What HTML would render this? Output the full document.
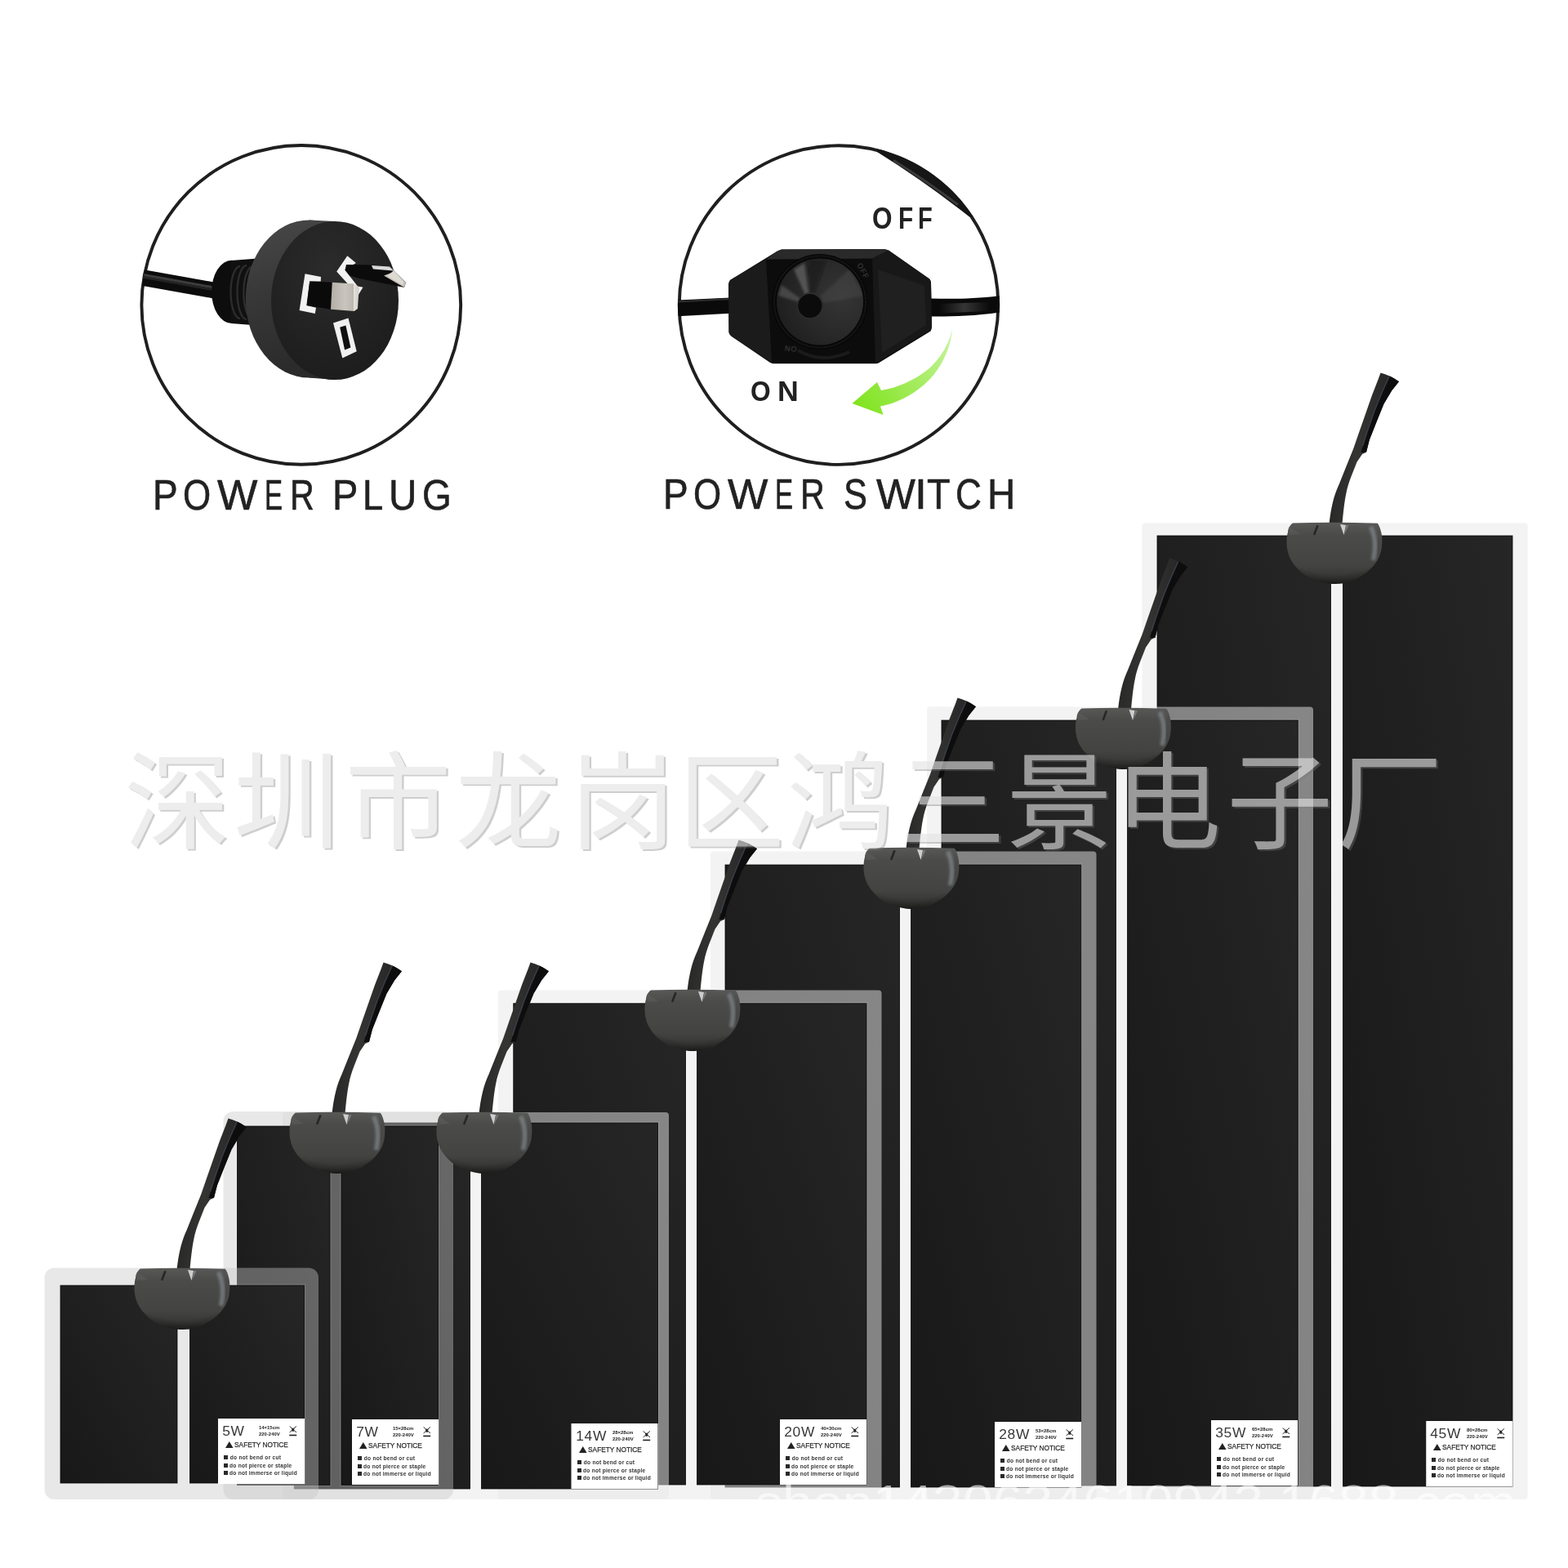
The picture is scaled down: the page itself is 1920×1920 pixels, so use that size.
<!DOCTYPE html>
<html><head><meta charset="utf-8"><title>Heat mat sizes</title>
<style>
html,body{margin:0;padding:0;background:#fff}
body{width:1920px;height:1920px;position:relative;overflow:hidden;font-family:"Liberation Sans",sans-serif}
svg.full{position:absolute;left:0;top:0}
.t{position:absolute;white-space:nowrap;color:#222;line-height:1;transform-origin:0 0}
.lb{position:absolute;width:106px;height:80px;color:#222;line-height:1;will-change:transform}
.t{will-change:transform}
.lb span{position:absolute;white-space:nowrap;transform-origin:0 0}
.lb .w{left:5.2px;top:7.1px;font-size:17.4px;color:#383838;letter-spacing:.75px}
.lb .sz{left:50.3px;top:8.4px;font-size:5.6px;font-weight:bold;line-height:7.5px;transform:scaleX(1.06)}
.lb .we{position:absolute;left:87px;top:9px;width:9.5px;height:13.3px}
.lb .sn{left:9px;top:28px;font-size:8.7px;transform:scaleX(.955);color:#2a2a2a;-webkit-text-stroke:.25px #2a2a2a}
.lb .sn i{display:inline-block;width:0;height:0;border-left:5.5px solid transparent;border-right:5.5px solid transparent;border-bottom:8.2px solid #222;margin-right:1.6px;vertical-align:-.7px}
.lb .l{left:7px;font-size:6.6px;font-weight:bold;color:#333;letter-spacing:.25px}
.lb .l b{display:inline-block;width:5px;height:5px;background:#2a2a2a;margin-right:2px;vertical-align:0}
.lb .l1{top:45px} .lb .l2{top:54.6px} .lb .l3{top:64.3px}
</style></head><body>
<svg class="full" width="1920" height="1920" viewBox="0 0 1920 1920">
<defs>
<linearGradient id="pg" x1="0" y1="1" x2="1" y2="0"><stop offset="0" stop-color="#181818"/><stop offset="1" stop-color="#262626"/></linearGradient>
<linearGradient id="cg" x1="0" y1="0" x2="0" y2="1"><stop offset="0" stop-color="#585957"/><stop offset=".2" stop-color="#4b4c4a"/><stop offset=".7" stop-color="#434441"/><stop offset=".9" stop-color="#363634"/><stop offset="1" stop-color="#282827"/></linearGradient>
<radialGradient id="cg2" cx=".5" cy=".2" r=".85"><stop offset="0" stop-color="#000" stop-opacity="0"/><stop offset=".75" stop-color="#000" stop-opacity="0"/><stop offset="1" stop-color="#000" stop-opacity=".45"/></radialGradient>
<linearGradient id="cabg" x1="0" y1="0" x2="1" y2="0.15"><stop offset="0" stop-color="#232323"/><stop offset=".45" stop-color="#343433"/><stop offset="1" stop-color="#222"/></linearGradient>
<filter id="bl2" x="-50%" y="-50%" width="200%" height="200%"><feGaussianBlur stdDeviation="1.6"/></filter>
<filter id="bl05" x="-50%" y="-50%" width="200%" height="200%"><feGaussianBlur stdDeviation=".6"/></filter>
<symbol id="conn" overflow="visible">
<path d="M52,2 C53,-8 54.5,-17 56.5,-25 C58.5,-33 61,-40 64.2,-46.9 L72.9,-68.8 L81.7,-90.6 L89.3,-112.5 L97,-134.4 L104.6,-156.3 L112.3,-175.9 L115,-183.6 Q126,-181 137.5,-172.7 L128.7,-161.7 L118.9,-145.3 L110.1,-123.4 L101.4,-101.6 L97.5,-86.3 L92.6,-84.1 L86,-74.2 L79.5,-57.8 C76,-49 74,-42 72.9,-36 C71,-27 69.5,-15 68,2 Z" fill="url(#cabg)"/>
<path d="M97.5,-86.3 L101.4,-101.6 L110.1,-123.4 L118.9,-145.3 L128.7,-161.7 L137.5,-172.7 Q131,-177.5 126,-179.5 L117,-160 L108,-138 L100,-115 L94,-96 L91,-86 Z" fill="#0d0d0d"/>
<path d="M125.5,-179 L116.5,-159 L107.5,-137 L99.5,-114 L93,-94" stroke="#3d4350" stroke-width="1.6" fill="none" opacity=".8"/>
<path d="M7.4,.5 C4,3 1.6,7 1.6,11.3 C.5,15 0,19 0,23.8 C0,28 .4,31 1.2,34.8 C2,39 3.5,43 5.9,46.5 C8,50.5 11,54 14.5,57.4 C18.5,61.5 23,64.5 28.5,67.6 C34,70.5 40,72.5 47.3,73.8 C51,74.6 55,75 59.8,75 C65,75 70,74.2 74.6,73 C80,71.6 85,69.2 90.2,66 C95.5,62.7 100,59.5 104.3,55 C108,51.3 110.8,47.3 112.9,42.6 C114.8,38.5 116,34.5 116.4,30 C116.8,27 116.9,24 116.8,20.7 C116.7,16.5 116.2,13 115.2,9.8 C114.4,6.5 113.2,3.5 111.3,.8 Q59,-1 7.4,.5 Z" fill="url(#cg)"/>
<path d="M7.4,.5 C4,3 1.6,7 1.6,11.3 C.5,15 0,19 0,23.8 C0,28 .4,31 1.2,34.8 C2,39 3.5,43 5.9,46.5 C8,50.5 11,54 14.5,57.4 C18.5,61.5 23,64.5 28.5,67.6 C34,70.5 40,72.5 47.3,73.8 C51,74.6 55,75 59.8,75 C65,75 70,74.2 74.6,73 C80,71.6 85,69.2 90.2,66 C95.5,62.7 100,59.5 104.3,55 C108,51.3 110.8,47.3 112.9,42.6 C114.8,38.5 116,34.5 116.4,30 C116.8,27 116.9,24 116.8,20.7 C116.7,16.5 116.2,13 115.2,9.8 C114.4,6.5 113.2,3.5 111.3,.8 Q59,-1 7.4,.5 Z" fill="url(#cg2)"/>
<path d="M103,5 Q111.5,22 106,46" stroke="#8a9097" stroke-width="5.5" fill="none" filter="url(#bl2)" opacity=".62"/>
<path d="M65.5,2 L72.5,3 L70,15 Z" fill="#dcdcdc" filter="url(#bl05)" opacity=".9"/><path d="M73,3 L76,3.2 L70.5,15 Z" fill="#7d8288" filter="url(#bl05)" opacity=".8"/>
<path d="M38,3.2 L33.6,14.8" stroke="#262626" stroke-width="2.6" fill="none" filter="url(#bl05)"/>
<path d="M3,5 L17,14 L3,15 Z" fill="#666" opacity=".35" filter="url(#bl05)"/>
</symbol>
<mask id="wmm"><rect x="0" y="850" width="1920" height="260" fill="#fff"/><text y="1029" x="152.2 285.8 422.5 557.5 697.3 830.5 963.6 1101.5 1232.2 1365.2 1502.1 1636.9" font-family="'Liberation Sans','Noto Sans CJK SC',sans-serif" font-size="130" fill="#000">深圳市龙岗区鸿三景电子厂</text></mask>
</defs>
<!-- circles -->
<circle cx="368.8" cy="373.4" r="195.4" fill="none" stroke="#1f1f1f" stroke-width="3.9"/>
<circle cx="1027" cy="373.6" r="195.3" fill="none" stroke="#1f1f1f" stroke-width="3.9"/>
<clipPath id="c1"><circle cx="368.8" cy="373.4" r="196"/></clipPath>
<linearGradient id="sideg" x1="0" y1="0" x2="0.3" y2="1"><stop offset="0" stop-color="#4a4a4a"/><stop offset=".45" stop-color="#383838"/><stop offset="1" stop-color="#2a2a2a"/></linearGradient>
<radialGradient id="faceg" cx=".45" cy=".3" r=".8"><stop offset="0" stop-color="#2b2b2b"/><stop offset="1" stop-color="#1b1b1b"/></radialGradient>
<linearGradient id="silv" x1="0" y1="0" x2="1" y2="0"><stop offset="0" stop-color="#b3aea6"/><stop offset=".5" stop-color="#c9c5be"/><stop offset=".8" stop-color="#bcb7af"/><stop offset=".82" stop-color="#e4e1dc"/><stop offset="1" stop-color="#cfcbc5"/></linearGradient>
<g id="plug" clip-path="url(#c1)">
<path d="M168,328.7 L264,345.9 L264,365.9 L168,348.7 Z" fill="#0c0c0c"/>
<path d="M170,335.5 L262,352" stroke="#4a4a4a" stroke-width="3" fill="none" opacity=".8"/>
<path d="M170,338.5 L262,355" stroke="#2a2a2a" stroke-width="2.5" fill="none" opacity=".8"/>
<ellipse cx="283.5" cy="357.3" rx="24.4" ry="38.6" fill="#0d0d0d"/>
<path d="M283,319 L322,316 L322,399 L283,396 Z" fill="#101010"/>
<path d="M294,326 A11.5,32 0 0 0 294,390 M302,325 A11.5,33 0 0 0 302,391 M310,326 A11.5,32 0 0 0 310,391" stroke="#2c2c2c" stroke-width="2.4" fill="none"/>
<path d="M378.5,269.5 L410,271 L410,465 L378.5,462.5 Z" fill="url(#sideg)"/>
<ellipse cx="378.5" cy="366" rx="77.7" ry="96.5" fill="url(#sideg)"/>
<ellipse cx="410" cy="368" rx="78" ry="97" fill="url(#faceg)"/>
<path d="M373.5,335.3 L393,338.9 L392.8,344.6 L379.2,344.4 L375.3,374 L387,376.7 L385.8,383.9 L366.6,379.9 Z" fill="#f1f1f1"/>
<path d="M425.3,313.2 L435.9,322.1 L422.3,330.5 L437.9,350.6 L444.5,351.8 L438.5,361.4 L412.2,332.6 Z" fill="#f1f1f1"/>
<path d="M424,324 L456,324.6 L477,326.6 L497,346 L495,352 L440,341 L428,337.5 L422.5,330.5 Z" fill="#0b0b0b"/>
<path d="M455,325 L477,326.6 L482,331.5 L457,329.6 Z" fill="#d9d9d9"/>
<path d="M477,326.6 L497,346 L495,352 L470,337.5 L482,333 Z" fill="#c4c0b9"/>
<path d="M482,331.5 L494.5,345.5 L493,349 L474,338 Z" fill="#ddd9d3"/>
<path d="M379.2,344.4 L406.8,345.8 L405,378.7 L375.8,374 Z" fill="#0a0a0a"/>
<path d="M406.8,345.8 L433.7,347.6 L439.7,351.8 L438,378 L433.7,381.1 L405,378.7 Z" fill="url(#silv)"/>
<path d="M408,395.5 L426.5,389.5 L436.7,430.2 L419.3,438.6 Z" fill="#f1f1f1"/>
<path d="M416.2,400.8 L423.4,398.4 L429.4,425.4 L422.1,428.4 Z" fill="#101010"/>
</g>
<clipPath id="c2"><circle cx="1027" cy="373.6" r="197"/></clipPath>
<linearGradient id="arr" x1="1166" y1="402" x2="1044" y2="494" gradientUnits="userSpaceOnUse"><stop offset="0" stop-color="#c9f4a6"/><stop offset=".5" stop-color="#a4ec5e"/><stop offset="1" stop-color="#7fe31c"/></linearGradient>
<linearGradient id="sheen" x1="1150" y1="0" x2="1212" y2="0" gradientUnits="userSpaceOnUse"><stop offset="0" stop-color="#3a3a3a" stop-opacity="0"/><stop offset=".5" stop-color="#3a3a3a" stop-opacity=".9"/><stop offset="1" stop-color="#3a3a3a" stop-opacity="0"/></linearGradient>
<radialGradient id="dial" cx=".75" cy=".45" r=".85"><stop offset="0" stop-color="#353535"/><stop offset=".55" stop-color="#282828"/><stop offset="1" stop-color="#1c1c1c"/></radialGradient>
<clipPath id="dialc"><circle cx="1004" cy="369.5" r="53"/></clipPath>
<filter id="bl1" x="-20%" y="-20%" width="140%" height="140%"><feGaussianBlur stdDeviation="1.5"/></filter>
<g id="switch" clip-path="url(#c2)">
<path d="M1074,186 Q1132,222 1187,265.5 L1260,265 L1260,150 L1074,150 Z" fill="#161616"/>
<path d="M1095,197 Q1135,222 1172,250" stroke="#3a3a3a" stroke-width="3" fill="none" stroke-linecap="round"/>
<path d="M826,367.7 L894,364.4 L894,383.7 L826,387.5 Z" fill="#0a0a0a"/>
<path d="M830,369.3 L893,366.2" stroke="#2c2c2c" stroke-width="2.2" fill="none"/>
<path d="M1140,365.4 C1165,366.4 1195,366 1230,361.5 L1230,381.5 C1195,387 1165,387.6 1140,387.4 Z" fill="#0a0a0a"/>
<path d="M1150,372 L1212,370 L1212,381 L1150,383.5 Z" fill="url(#sheen)"/>
<path d="M894,343 Q892,345.5 892,349 L892.5,407 Q893,410 896,412 L943,444 Q945,445.3 948,445.3 L1072,445.3 Q1075,445.3 1077,443.8 L1139.5,405.5 Q1141,403 1141,400 L1140,346 Q1140,343 1138,341.5 L1088,306.5 Q1085,305 1082,305 L957,305.5 Q954,306 951,308 Z" fill="#0c0c0c"/>
<path d="M951,308 L957,305.5 L1082,305 L1088,306.5 L1068,316.5 L938,317.5 Z" fill="#2a2a2a"/>
<path d="M894,343 L938,317.5 L945,444 L896,412 L892.5,407 L892,349 Z" fill="#1b1b1b"/>
<path d="M1068,316.5 L1088,306.5 L1138,341.5 L1140,346 L1141,400 L1139,404.5 L1076,442.5 L1072,444 Z" fill="#181818"/>
<path d="M1075,330 L1132,350 L1134,398 L1080,432 Z" fill="#232323" opacity=".8"/>
<circle cx="1004" cy="369.5" r="58.5" fill="#070707"/>
<circle cx="1004" cy="369.5" r="56" fill="none" stroke="#1f1f1f" stroke-width="2.2" stroke-dasharray="1.2 1.2"/>
<circle cx="1004" cy="369.5" r="53" fill="url(#dial)"/>
<g clip-path="url(#dialc)" filter="url(#bl1)">
<path d="M992,374 L972,330 L985,322 Z" fill="#777" opacity=".55"/>
<path d="M992,374 L953,362 L957,349 Z" fill="#6a6a6a" opacity=".5"/>
<path d="M992,374 L1040,330 L1058,362 Z" fill="#4a4a4a" opacity=".45"/>
<path d="M992,374 L990,318 L1012,318 Z" fill="#111" opacity=".5"/>
</g>
<circle cx="992.3" cy="374.4" r="16.3" fill="#2e2e2e"/>
<circle cx="991.8" cy="374.6" r="14.6" fill="#0b0b0b"/>
<text x="0" y="0" transform="translate(1049,324) rotate(62)" font-family="Liberation Sans, sans-serif" font-size="9.5" font-weight="bold" fill="#2f2f2f" letter-spacing=".6">OFF</text>
<text x="0" y="0" transform="translate(976,424.5) rotate(186)" font-family="Liberation Sans, sans-serif" font-size="9.5" font-weight="bold" fill="#2f2f2f" letter-spacing=".6">ON</text>
<path d="M977,429 Q1006,446 1040,431" stroke="#1b1b1b" stroke-width="4" fill="none"/>
</g>
<path d="M1166,402 C1163,420 1152,438 1138,451 C1120,466 1098,475 1079,478 L1074,468 L1043.5,494 L1081.5,508 L1078,497.5 C1103,493 1128,478 1144,458 C1158,440 1165,420 1166,402 Z" fill="url(#arr)"/>
<!-- mats -->
<rect x="1398.5" y="640.5" width="472.0" height="1195.5" rx="4" fill="rgba(231,231,231,.507)"/>
<rect x="1415.5" y="654.5" width="215.5" height="1167" fill="rgba(255,255,255,.16)"/>
<rect x="1417" y="656" width="212.5" height="1164" fill="url(#pg)" stroke="#050505" stroke-width="1" stroke-opacity=".8"/>
<rect x="1643.0" y="654.5" width="210.5" height="1167" fill="rgba(255,255,255,.16)"/>
<rect x="1644.5" y="656" width="207.5" height="1164" fill="url(#pg)" stroke="#050505" stroke-width="1" stroke-opacity=".8"/>
<rect x="1746.25" y="1740" width="106" height="80" fill="#fff"/>
<rect x="1135" y="865.5" width="473" height="970.5" rx="4" fill="rgba(231,231,231,.507)"/>
<rect x="1151.5" y="880.5" width="216.5" height="940" fill="rgba(255,255,255,.16)"/>
<rect x="1153" y="882" width="213.5" height="937" fill="url(#pg)" stroke="#050505" stroke-width="1" stroke-opacity=".8"/>
<rect x="1379.0" y="880.5" width="211.75" height="940" fill="rgba(255,255,255,.16)"/>
<rect x="1380.5" y="882" width="208.75" height="937" fill="url(#pg)" stroke="#050505" stroke-width="1" stroke-opacity=".8"/>
<rect x="1483" y="1739" width="106" height="80" fill="#fff"/>
<rect x="870" y="1042.5" width="472.5" height="793.5" rx="4" fill="rgba(231,231,231,.507)"/>
<rect x="886.5" y="1057.5" width="216.5" height="765" fill="rgba(255,255,255,.16)"/>
<rect x="888" y="1059" width="213.5" height="762" fill="url(#pg)" stroke="#050505" stroke-width="1" stroke-opacity=".8"/>
<rect x="1114.0" y="1057.5" width="211.25" height="765" fill="rgba(255,255,255,.16)"/>
<rect x="1115.5" y="1059" width="208.25" height="762" fill="url(#pg)" stroke="#050505" stroke-width="1" stroke-opacity=".8"/>
<rect x="1218" y="1741" width="106" height="80" fill="#fff"/>
<rect x="610" y="1212.5" width="469.5" height="623.5" rx="4" fill="rgba(231,231,231,.507)"/>
<rect x="627.25" y="1227.25" width="213.75" height="592.25" fill="rgba(255,255,255,.16)"/>
<rect x="628.75" y="1228.75" width="210.75" height="589.25" fill="url(#pg)" stroke="#050505" stroke-width="1" stroke-opacity=".8"/>
<rect x="852.0" y="1227.25" width="210.5" height="592.25" fill="rgba(255,255,255,.16)"/>
<rect x="853.5" y="1228.75" width="207.5" height="589.25" fill="url(#pg)" stroke="#050505" stroke-width="1" stroke-opacity=".8"/>
<rect x="955" y="1738" width="106" height="80" fill="#fff"/>
<rect x="346" y="1362" width="473" height="474" rx="4" fill="rgba(231,231,231,.507)"/>
<rect x="358.8" y="1373.5" width="218.2" height="451" fill="rgba(255,255,255,.16)"/>
<rect x="360.3" y="1375" width="215.2" height="448" fill="url(#pg)" stroke="#050505" stroke-width="1" stroke-opacity=".8"/>
<rect x="588.0" y="1373.5" width="219.0" height="451" fill="rgba(255,255,255,.16)"/>
<rect x="589.5" y="1375" width="216.0" height="448" fill="url(#pg)" stroke="#050505" stroke-width="1" stroke-opacity=".8"/>
<rect x="699.5" y="1743" width="106" height="80" fill="#fff"/>
<rect x="273.5" y="1361" width="281.5" height="475" rx="12" fill="rgba(199,199,199,.41)"/>
<rect x="289.0" y="1377.5" width="116.5" height="442.4000000000001" fill="rgba(255,255,255,.16)"/>
<rect x="290.5" y="1379" width="113.5" height="439.4000000000001" fill="url(#pg)" stroke="#050505" stroke-width="1" stroke-opacity=".8"/>
<rect x="416.5" y="1377.5" width="121.5" height="442.4000000000001" fill="rgba(255,255,255,.16)"/>
<rect x="418" y="1379" width="118.5" height="439.4000000000001" fill="url(#pg)" stroke="#050505" stroke-width="1" stroke-opacity=".8"/>
<rect x="431" y="1738" width="106" height="80" fill="#fff"/>
<rect x="54.5" y="1552.5" width="335.5" height="283.5" rx="12" fill="rgba(199,199,199,.41)"/>
<rect x="72.5" y="1572.5" width="146" height="245" fill="rgba(255,255,255,.16)"/>
<rect x="74" y="1574" width="143" height="242" fill="url(#pg)" stroke="#050505" stroke-width="1" stroke-opacity=".8"/>
<rect x="231.0" y="1572.5" width="143.0" height="245" fill="rgba(255,255,255,.16)"/>
<rect x="232.5" y="1574" width="140.0" height="242" fill="url(#pg)" stroke="#050505" stroke-width="1" stroke-opacity=".8"/>
<rect x="267" y="1737" width="106" height="80" fill="#fff"/>
<use href="#conn" x="1575.5" y="640"/>
<use href="#conn" x="1317" y="867"/>
<use href="#conn" x="1057.5" y="1038"/>
<use href="#conn" x="789.5" y="1212"/>
<use href="#conn" x="534.5" y="1362"/>
<use href="#conn" x="354.5" y="1362"/>
<use href="#conn" x="164.5" y="1553"/>
</svg>
<div class="t" style="left:186.72px;top:580.75px;font-size:51.96px;color:#222;-webkit-text-stroke:.6px #222;"><span style="display:inline-block;width:37.19px;transform:scaleX(0.886);transform-origin:0 0">P</span><span style="display:inline-block;width:41.85px;transform:scaleX(0.846);transform-origin:0 0">O</span><span style="display:inline-block;width:57.51px;transform:scaleX(1.007);transform-origin:0 0">W</span><span style="display:inline-block;width:31.34px;transform:scaleX(0.639);transform-origin:0 0">E</span><span style="display:inline-block;width:52.53px;transform:scaleX(0.794);transform-origin:0 0">R</span><span style="display:inline-block;width:0"> </span><span style="display:inline-block;width:36.63px;transform:scaleX(0.904);transform-origin:0 0">P</span><span style="display:inline-block;width:31.55px;transform:scaleX(0.873);transform-origin:0 0">L</span><span style="display:inline-block;width:41.36px;transform:scaleX(0.915);transform-origin:0 0">U</span><span style="display:inline-block;width:60.00px;transform:scaleX(0.884);transform-origin:0 0">G</span></div>
<div class="t" style="left:811.72px;top:579.75px;font-size:51.96px;color:#222;-webkit-text-stroke:.6px #222;"><span style="display:inline-block;width:37.19px;transform:scaleX(0.886);transform-origin:0 0">P</span><span style="display:inline-block;width:41.85px;transform:scaleX(0.846);transform-origin:0 0">O</span><span style="display:inline-block;width:57.51px;transform:scaleX(1.007);transform-origin:0 0">W</span><span style="display:inline-block;width:31.34px;transform:scaleX(0.639);transform-origin:0 0">E</span><span style="display:inline-block;width:53.41px;transform:scaleX(0.794);transform-origin:0 0">R</span><span style="display:inline-block;width:0"> </span><span style="display:inline-block;width:39.25px;transform:scaleX(0.836);transform-origin:0 0">S</span><span style="display:inline-block;width:47.78px;transform:scaleX(0.977);transform-origin:0 0">W</span><span style="display:inline-block;width:14.89px;transform:scaleX(1.032);transform-origin:0 0">I</span><span style="display:inline-block;width:34.81px;transform:scaleX(0.902);transform-origin:0 0">T</span><span style="display:inline-block;width:38.85px;transform:scaleX(0.851);transform-origin:0 0">C</span><span style="display:inline-block;width:60.00px;transform:scaleX(0.913);transform-origin:0 0">H</span></div>
<div class="t" style="left:1068.41px;top:249.53px;font-size:36.34px;color:#222;font-weight:bold;"><span style="display:inline-block;width:32.10px;transform:scaleX(0.867);transform-origin:0 0">O</span><span style="display:inline-block;width:23.80px;transform:scaleX(0.819);transform-origin:0 0">F</span><span style="display:inline-block;width:60.00px;transform:scaleX(0.800);transform-origin:0 0">F</span></div>
<div class="t" style="left:919.20px;top:460.66px;font-size:35.25px;color:#222;font-weight:bold;"><span style="display:inline-block;width:32.91px;transform:scaleX(0.898);transform-origin:0 0">O</span><span style="display:inline-block;width:60.00px;transform:scaleX(1.013);transform-origin:0 0">N</span></div>
<div class="lb" style="left:1746.25px;top:1740px"><span class="w">45W</span><span class="sz">80×28cm<br>220-240V</span><svg class="we" viewBox="0 0 10 14"><path d="M.6 .4L9.4 8.4M9.4 .4L.6 8.4" stroke="#222" stroke-width="1.05" fill="none"/><path d="M3.2 3h3.6l-.6 4.2H3.8z" fill="#2a2a2a"/><rect x=".3" y="11.2" width="9.4" height="1.7" fill="#222"/></svg><span class="sn"><i></i>SAFETY NOTICE</span><span class="l l1"><b style="margin-right:2.8px"></b>do not bend or cut</span><span class="l l2"><b></b>do not pierce or staple</span><span class="l l3"><b></b>do not immerse or liquid</span></div>
<div class="lb" style="left:1483px;top:1739px"><span class="w">35W</span><span class="sz">65×28cm<br>220-240V</span><svg class="we" viewBox="0 0 10 14"><path d="M.6 .4L9.4 8.4M9.4 .4L.6 8.4" stroke="#222" stroke-width="1.05" fill="none"/><path d="M3.2 3h3.6l-.6 4.2H3.8z" fill="#2a2a2a"/><rect x=".3" y="11.2" width="9.4" height="1.7" fill="#222"/></svg><span class="sn"><i></i>SAFETY NOTICE</span><span class="l l1"><b style="margin-right:2.8px"></b>do not bend or cut</span><span class="l l2"><b></b>do not pierce or staple</span><span class="l l3"><b></b>do not immerse or liquid</span></div>
<div class="lb" style="left:1218px;top:1741px"><span class="w">28W</span><span class="sz">53×28cm<br>220-240V</span><svg class="we" viewBox="0 0 10 14"><path d="M.6 .4L9.4 8.4M9.4 .4L.6 8.4" stroke="#222" stroke-width="1.05" fill="none"/><path d="M3.2 3h3.6l-.6 4.2H3.8z" fill="#2a2a2a"/><rect x=".3" y="11.2" width="9.4" height="1.7" fill="#222"/></svg><span class="sn"><i></i>SAFETY NOTICE</span><span class="l l1"><b style="margin-right:2.8px"></b>do not bend or cut</span><span class="l l2"><b></b>do not pierce or staple</span><span class="l l3"><b></b>do not immerse or liquid</span></div>
<div class="lb" style="left:955px;top:1738px"><span class="w">20W</span><span class="sz">40×30cm<br>220-240V</span><svg class="we" viewBox="0 0 10 14"><path d="M.6 .4L9.4 8.4M9.4 .4L.6 8.4" stroke="#222" stroke-width="1.05" fill="none"/><path d="M3.2 3h3.6l-.6 4.2H3.8z" fill="#2a2a2a"/><rect x=".3" y="11.2" width="9.4" height="1.7" fill="#222"/></svg><span class="sn"><i></i>SAFETY NOTICE</span><span class="l l1"><b style="margin-right:2.8px"></b>do not bend or cut</span><span class="l l2"><b></b>do not pierce or staple</span><span class="l l3"><b></b>do not immerse or liquid</span></div>
<div class="lb" style="left:699.5px;top:1743px"><span class="w">14W</span><span class="sz">28×28cm<br>220-240V</span><svg class="we" viewBox="0 0 10 14"><path d="M.6 .4L9.4 8.4M9.4 .4L.6 8.4" stroke="#222" stroke-width="1.05" fill="none"/><path d="M3.2 3h3.6l-.6 4.2H3.8z" fill="#2a2a2a"/><rect x=".3" y="11.2" width="9.4" height="1.7" fill="#222"/></svg><span class="sn"><i></i>SAFETY NOTICE</span><span class="l l1"><b style="margin-right:2.8px"></b>do not bend or cut</span><span class="l l2"><b></b>do not pierce or staple</span><span class="l l3"><b></b>do not immerse or liquid</span></div>
<div class="lb" style="left:431px;top:1738px"><span class="w">7W</span><span class="sz">15×28cm<br>220-240V</span><svg class="we" viewBox="0 0 10 14"><path d="M.6 .4L9.4 8.4M9.4 .4L.6 8.4" stroke="#222" stroke-width="1.05" fill="none"/><path d="M3.2 3h3.6l-.6 4.2H3.8z" fill="#2a2a2a"/><rect x=".3" y="11.2" width="9.4" height="1.7" fill="#222"/></svg><span class="sn"><i></i>SAFETY NOTICE</span><span class="l l1"><b style="margin-right:2.8px"></b>do not bend or cut</span><span class="l l2"><b></b>do not pierce or staple</span><span class="l l3"><b></b>do not immerse or liquid</span></div>
<div class="lb" style="left:267px;top:1737px"><span class="w">5W</span><span class="sz">14×15cm<br>220-240V</span><svg class="we" viewBox="0 0 10 14"><path d="M.6 .4L9.4 8.4M9.4 .4L.6 8.4" stroke="#222" stroke-width="1.05" fill="none"/><path d="M3.2 3h3.6l-.6 4.2H3.8z" fill="#2a2a2a"/><rect x=".3" y="11.2" width="9.4" height="1.7" fill="#222"/></svg><span class="sn"><i></i>SAFETY NOTICE</span><span class="l l1"><b style="margin-right:2.8px"></b>do not bend or cut</span><span class="l l2"><b></b>do not pierce or staple</span><span class="l l3"><b></b>do not immerse or liquid</span></div>
<div class="t" id="wm2" style="left:925px;top:1810.4px;font-size:58px;color:rgba(255,255,255,.62);transform:scaleX(1.141)">shop1430634610943.1688.com</div>
<svg class="full" width="1920" height="1920" viewBox="0 0 1920 1920"><title>深圳市龙岗区鸿三景电子厂</title>
<g fill="rgba(120,120,120,.36)" mask="url(#wmm)"><text y="1031.4" x="154.6 288.2 424.9 559.9 699.7 832.9 966.0 1103.9 1234.6 1367.6 1504.5 1639.3" font-family="'Liberation Sans','Noto Sans CJK SC',sans-serif" font-size="130">深圳市龙岗区鸿三景电子厂</text></g>
<g fill="rgba(226,226,226,.63)"><text y="1029" x="152.2 285.8 422.5 557.5 697.3 830.5 963.6 1101.5 1232.2 1365.2 1502.1 1636.9" font-family="'Liberation Sans','Noto Sans CJK SC',sans-serif" font-size="130">深圳市龙岗区鸿三景电子厂</text></g>
</svg>
</body></html>
